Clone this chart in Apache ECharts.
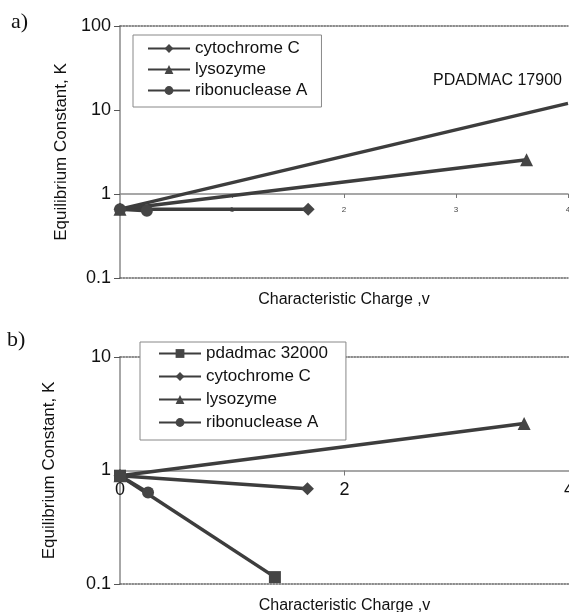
<!DOCTYPE html>
<html>
<head>
<meta charset="utf-8">
<script src="https://cdn.jsdelivr.net/npm/echarts@6/dist/echarts.min.js"></script>
<style>
  html, body { margin: 0; padding: 0; background: #fff; }
  #chart { width: 569px; height: 612px; }
</style>
</head>
<body>
<div id="chart"></div>
<script>
// panel a) PDADMAC 17900
const aPdadmac = [[0, 0.66], [4, 12]]
const aCytochrome = [[0, 0.66], [1.68, 0.66]]
const aLysozyme = [[0, 0.66], [3.63, 2.55]]
const aRibonuclease = [[0, 0.66], [0.24, 0.63]]

// panel b) pdadmac 32000
const bPdadmac = [[0, 0.9], [1.38, 0.115]]
const bCytochrome = [[0, 0.9], [1.67, 0.69]]
const bLysozyme = [[0, 0.9], [3.6, 2.6]]
const bRibonuclease = [[0, 0.9], [0.25, 0.64]]

const legendA = ['cytochrome C', 'lysozyme', 'ribonuclease A']
const legendB = ['pdadmac 32000', 'cytochrome C', 'lysozyme', 'ribonuclease A']

const yRangeA = [0.1, 100]
const yRangeB = [0.1, 10]
const xRange = [0, 4]

const font = 'Liberation Sans, Arial, sans-serif'
const lineColor = '#3d3d3d'
const frameColor = '#8a8a8a'

const gridA = { left: 120, top: 26, width: 448, height: 252, outerBoundsMode: 'none', containLabel: false }
const gridB = { left: 120, top: 357, width: 449, height: 227, outerBoundsMode: 'none', containLabel: false }

// pixel shift that puts the x axis on y = 1 of a log axis
function crossAtOne(grid, range) {
  const span = Math.log10(range[1]) - Math.log10(range[0])
  return -grid.height * (0 - Math.log10(range[0])) / span
}

function frameAxis(gridIndex, position, withName) {
  return {
    type: 'value',
    gridIndex,
    position,
    min: xRange[0],
    max: xRange[1],
    axisLine: { show: true, onZero: false, lineStyle: { color: '#666', width: 1.5, type: 'dotted' } },
    axisTick: { show: false },
    axisLabel: { show: false },
    splitLine: { show: false },
    name: withName ? 'Characteristic Charge ,v' : '',
    nameLocation: 'middle',
    nameGap: 14,
    nameTextStyle: { fontFamily: font, fontSize: 16, color: '#111' }
  }
}

function yAxis(gridIndex, range, nameGap) {
  return {
    type: 'log',
    logBase: 10,
    gridIndex,
    min: range[0],
    max: range[1],
    axisLine: { show: true, lineStyle: { color: frameColor, width: 1.5 } },
    axisTick: { show: true, length: 6, lineStyle: { color: '#555' } },
    axisLabel: { fontFamily: font, fontSize: 18, color: '#111', margin: 9 },
    splitLine: { show: false },
    name: 'Equilibrium Constant, K',
    nameLocation: 'middle',
    nameGap,
    nameTextStyle: { fontFamily: font, fontSize: 17, color: '#111' }
  }
}

function series(name, data, xAxisIndex, yAxisIndex, symbol, size) {
  return {
    name,
    type: 'line',
    xAxisIndex,
    yAxisIndex,
    data,
    symbol,
    symbolSize: size,
    showSymbol: symbol !== 'none',
    color: lineColor,
    lineStyle: { color: lineColor, width: 3.5 },
    itemStyle: { color: '#454545' },
    animation: false,
    z: 3
  }
}

const chart = echarts.init(document.getElementById('chart'))

chart.setOption({
  backgroundColor: '#fff',
  animation: false,
  grid: [gridA, gridB],
  xAxis: [
    {
      type: 'value',
      gridIndex: 0,
      position: 'bottom',
      offset: crossAtOne(gridA, yRangeA),
      min: xRange[0],
      max: xRange[1],
      interval: 1,
      axisLine: { show: true, onZero: false, lineStyle: { color: frameColor, width: 1.5 } },
      axisTick: { show: true, length: 4, lineStyle: { color: '#777' } },
      axisLabel: { fontFamily: font, fontSize: 8, color: '#444', margin: 12, showMinLabel: false },
      splitLine: { show: false }
    },
    frameAxis(0, 'bottom', true),
    frameAxis(0, 'top', false),
    {
      type: 'value',
      gridIndex: 1,
      position: 'bottom',
      offset: crossAtOne(gridB, yRangeB),
      min: xRange[0],
      max: xRange[1],
      interval: 2,
      axisLine: { show: true, onZero: false, lineStyle: { color: frameColor, width: 1.5 } },
      axisTick: { show: true, length: 5, lineStyle: { color: '#777' } },
      axisLabel: { fontFamily: font, fontSize: 18, color: '#111', margin: 11 },
      splitLine: { show: false }
    },
    frameAxis(1, 'bottom', true),
    frameAxis(1, 'top', false)
  ],
  yAxis: [yAxis(0, yRangeA, 47), yAxis(1, yRangeB, 62)],
  legend: [
    {
      data: legendA,
      orient: 'vertical',
      left: 133,
      top: 35,
      itemWidth: 42,
      itemHeight: 11,
      itemGap: 2,
      padding: [4, 14, 7, 14],
      backgroundColor: '#fff',
      borderColor: '#888',
      borderWidth: 1,
      selectedMode: false,
      textStyle: { fontFamily: font, fontSize: 17, lineHeight: 19, color: '#111' },
      z: 10
    },
    {
      data: legendB,
      orient: 'vertical',
      left: 140,
      top: 342,
      itemWidth: 42,
      itemHeight: 11,
      itemGap: 4,
      padding: [2, 18, 8, 18],
      backgroundColor: '#fff',
      borderColor: '#888',
      borderWidth: 1,
      selectedMode: false,
      textStyle: { fontFamily: font, fontSize: 17, lineHeight: 19, color: '#111' },
      z: 10
    }
  ],
  graphic: [
    { type: 'text', left: 11, top: 11, style: { text: 'a)', fontFamily: 'Liberation Serif, Times New Roman, serif', fontSize: 22, fill: '#111' } },
    { type: 'text', left: 7, top: 329, style: { text: 'b)', fontFamily: 'Liberation Serif, Times New Roman, serif', fontSize: 22, fill: '#111' } },
    { type: 'text', left: 433, top: 73, style: { text: 'PDADMAC 17900', fontFamily: font, fontSize: 16, fill: '#111' } }
  ],
  series: [
    series('PDADMAC 17900', aPdadmac, 0, 0, 'none', 0),
    series('cytochrome C', aCytochrome, 0, 0, 'diamond', 13),
    series('lysozyme', aLysozyme, 0, 0, 'triangle', 13),
    series('ribonuclease A', aRibonuclease, 0, 0, 'circle', 12),
    series('pdadmac 32000', bPdadmac, 3, 1, 'rect', 12),
    series('cytochrome C', bCytochrome, 3, 1, 'diamond', 13),
    series('lysozyme', bLysozyme, 3, 1, 'triangle', 13),
    series('ribonuclease A', bRibonuclease, 3, 1, 'circle', 12)
  ]
})
</script>
</body>
</html>
